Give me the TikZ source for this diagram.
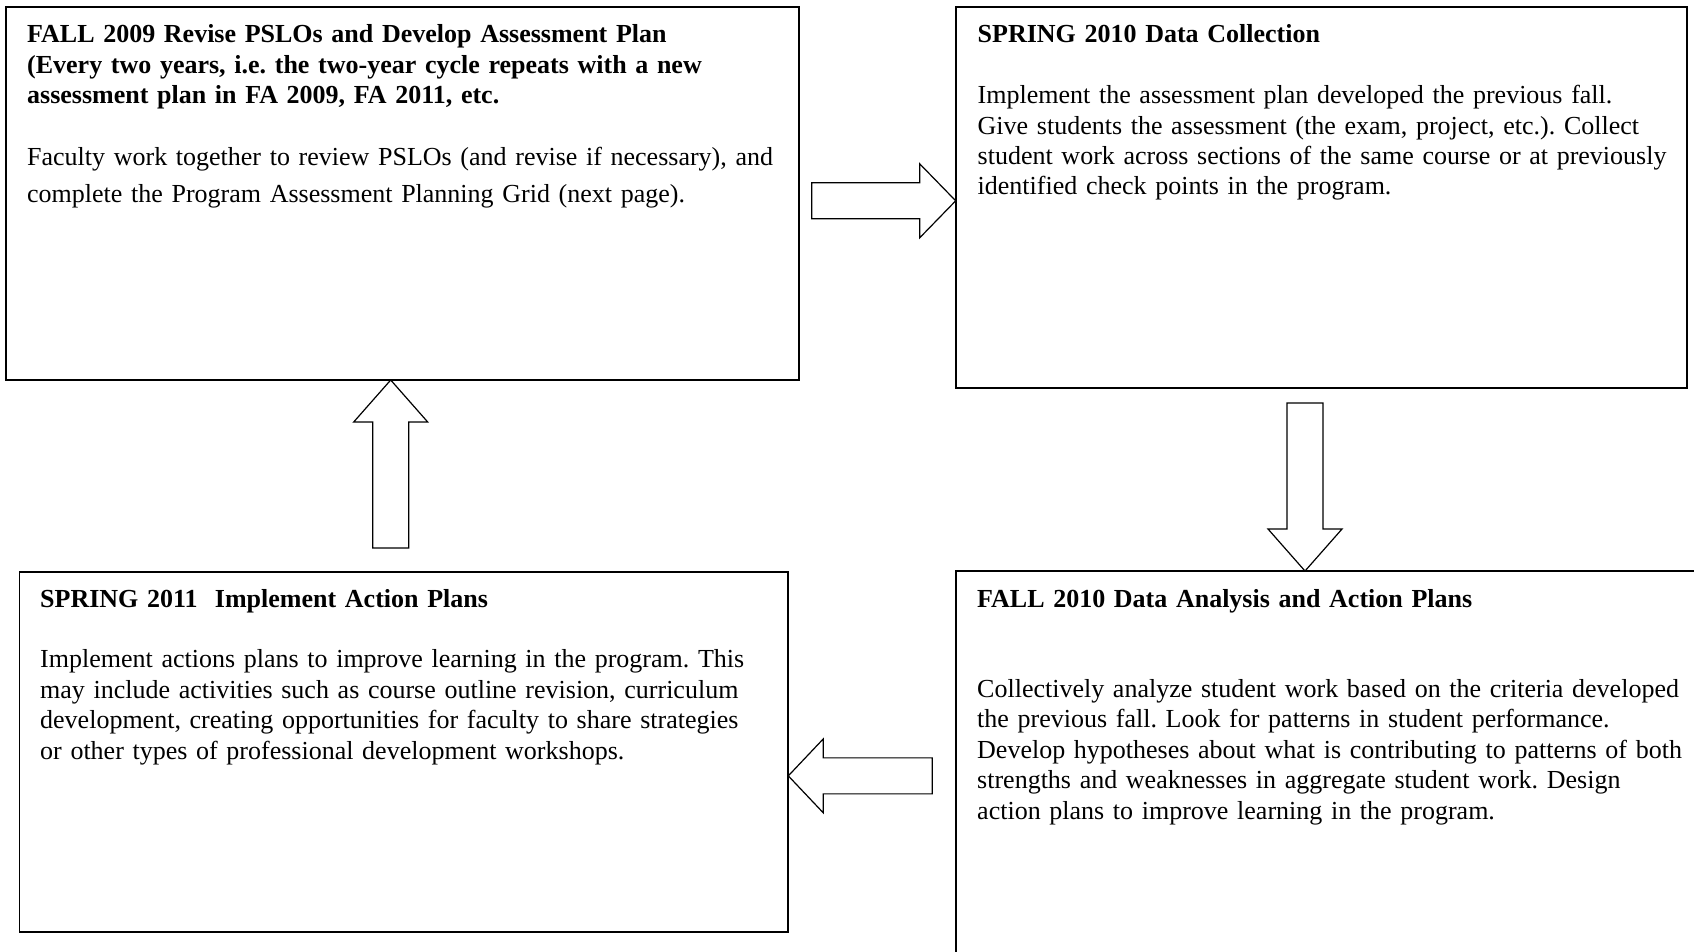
\documentclass[tikz,border=0pt]{standalone}
\usepackage{fontspec}
\setmainfont{Liberation Serif}
\frenchspacing

\tikzset{
  stage/.style={draw, line width=1.8pt, inner sep=0pt, outer sep=0pt, anchor=north west},
  title/.style={anchor=base west, inner sep=0pt, text width=800pt, align=left,
                font=\fontsize{26}{30.5}\selectfont\bfseries},
  body/.style={anchor=base west, inner sep=0pt, text width=800pt, align=left,
               font=\fontsize{26}{#1}\selectfont},
  blockarrow/.style={draw, line width=1.2pt, fill=white, line join=miter},
}

% hollow arrow: tip, direction, length, head length
\newcommand{\cyclearrow}[4]{%
  \draw[blockarrow, shift={(#1)}, rotate=#2]
    (0,0) -- (-#4,37) -- (-#4,18) -- (-#3,18) -- (-#3,-18) -- (-#4,-18) -- (-#4,-37) -- cycle;}

\begin{document}
\begin{tikzpicture}[x=1pt, y=-1pt]
  \useasboundingbox (0,0) rectangle (1694,951);

  % the four stages
  \node[stage, minimum width=792.7pt, minimum height=372.7pt] (f09) at (6.3,7.3)    {};
  \node[stage, minimum width=731pt,   minimum height=381pt]   (s10) at (955.7,7.3)  {};
  \node[stage, minimum width=800pt,   minimum height=450pt]   (f10) at (955.7,571)  {};
  \node[stage, minimum width=768.8pt, minimum height=360.3pt] (s11) at (19.5,571.7) {};

  \node[title] (f09t) at (27,42.5) {FALL 2009 Revise PSLOs and Develop Assessment Plan\\
    (Every two years, i.e. the two-year cycle repeats with a new\\
    assessment plan in FA 2009, FA 2011, etc.};
  \node[body=37] (f09b) at (27,165.5) {Faculty work together to review PSLOs (and revise if necessary), and\\
    complete the Program Assessment Planning Grid (next page).};

  \node[title] (s10t) at (977.5,42.7) {SPRING 2010 Data Collection};
  \node[body=30.3] (s10b) at (977.5,103.7) {Implement the assessment plan developed the previous fall.\\
    Give students the assessment (the exam, project, etc.). Collect\\
    student work across sections of the same course or at previously\\
    identified check points in the program.};

  \node[title] (f10t) at (977,607) {FALL 2010 Data Analysis and Action Plans};
  \node[body=30.4] (f10b) at (977,697.4) {Collectively analyze student work based on the criteria developed\\
    the previous fall. Look for patterns in student performance.\\
    Develop hypotheses about what is contributing to patterns of both\\
    strengths and weaknesses in aggregate student work. Design\\
    action plans to improve learning in the program.};

  \node[title] (s11t) at (40,607) {SPRING 2011~ Implement Action Plans};
  \node[body=30.7] (s11b) at (40,667.5) {Implement actions plans to improve learning in the program. This\\
    may include activities such as course outline revision, curriculum\\
    development, creating opportunities for faculty to share strategies\\
    or other types of professional development workshops.};

  % the cycle
  \cyclearrow{[yshift=-3pt]s10.west}{0}{144}{36}
  \cyclearrow{[xshift=349.3pt]f10.north west}{270}{168}{42}
  \cyclearrow{[yshift=-24pt]s11.east}{180}{144}{35}
  \cyclearrow{[xshift=384.4pt]f09.south west}{90}{168}{42}
\end{tikzpicture}
\end{document}
